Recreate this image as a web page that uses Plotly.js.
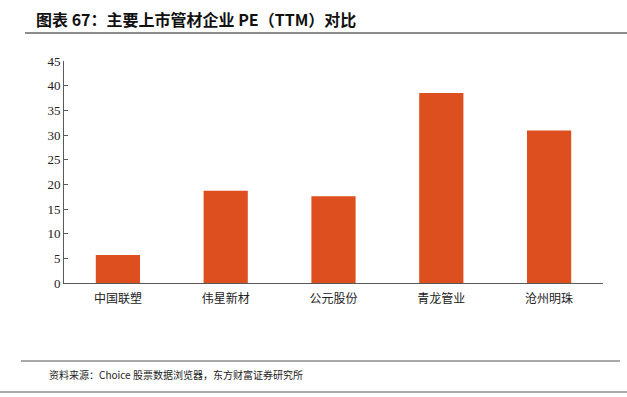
<!DOCTYPE html>
<html><head><meta charset="utf-8">
<script src="https://cdn.plot.ly/plotly-3.0.1.min.js"></script>
<style>html,body{margin:0;padding:0;background:#fff}#c{width:627px;height:397px}</style>
</head><body><div id="c"></div>
<script>
const categories = ["中国联塑", "伟星新材", "公元股份", "青龙管业", "沧州明珠"];
const peValues = [5.7, 18.7, 17.6, 38.5, 30.9];
const yTicks = [0, 5, 10, 15, 20, 25, 30, 35, 40, 45];

const W = 627, H = 397, L = 64, R = 603, T = 61, B = 283;
const px = x => (x - L) / (R - L);
const py = y => (B - y) / (B - T);

const trace = {
  type: 'bar', x: categories, y: peValues,
  marker: {color: '#DD4F1F'}, hoverinfo: 'none'
};
const layout = {
  width: W, height: H,
  margin: {l: L, r: W - R, t: T, b: H - B, pad: 0},
  paper_bgcolor: '#fff', plot_bgcolor: '#fff',
  bargap: 0.59, showlegend: false,
  font: {family: '"Liberation Serif", "Noto Sans CJK SC", serif', size: 12, color: '#222'},
  xaxis: {
    showgrid: false, zeroline: false, showline: true, linecolor: '#595959', linewidth: 1,
    ticks: '', ticklabelstandoff: 5,
    tickfont: {size: 12, family: '"Noto Sans CJK SC", serif', color: '#222'}, fixedrange: true
  },
  yaxis: {
    range: [0, 45], tickvals: yTicks, ticktext: yTicks.map(String),
    showgrid: false, zeroline: false, showline: true, linecolor: '#595959', linewidth: 1,
    ticks: 'inside', ticklen: 4, tickcolor: '#595959',
    tickfont: {size: 13, family: '"Liberation Serif", serif', color: '#222'}, fixedrange: true
  },
  shapes: [
    {type: 'line', xref: 'paper', yref: 'paper', x0: px(25), x1: px(627), y0: py(33), y1: py(33), line: {color: '#8c8c8c', width: 2}},
    {type: 'line', xref: 'paper', yref: 'paper', x0: px(21), x1: px(620), y0: py(361), y1: py(361), line: {color: '#8c8c8c', width: 1.5}},
    {type: 'line', xref: 'paper', yref: 'paper', x0: px(0), x1: px(627), y0: py(392), y1: py(392), line: {color: '#8c8c8c', width: 1.5}}
  ],
  annotations: [
    {xref: 'paper', yref: 'paper', x: px(34), y: py(19), xanchor: 'left', yanchor: 'middle', showarrow: false,
     text: '<b>图表 67：主要上市管材企业 PE（TTM）对比</b>',
     font: {family: '"Noto Sans CJK SC", sans-serif', size: 16, color: '#111'}},
    {xref: 'paper', yref: 'paper', x: px(47), y: py(374), xanchor: 'left', yanchor: 'middle', showarrow: false,
     text: '资料来源：Choice 股票数据浏览器，东方财富证券研究所',
     font: {family: '"Noto Sans CJK SC", sans-serif', size: 10, color: '#222'}}
  ]
};
Plotly.newPlot('c', [trace], layout, {displayModeBar: false, staticPlot: true});
</script></body></html>
